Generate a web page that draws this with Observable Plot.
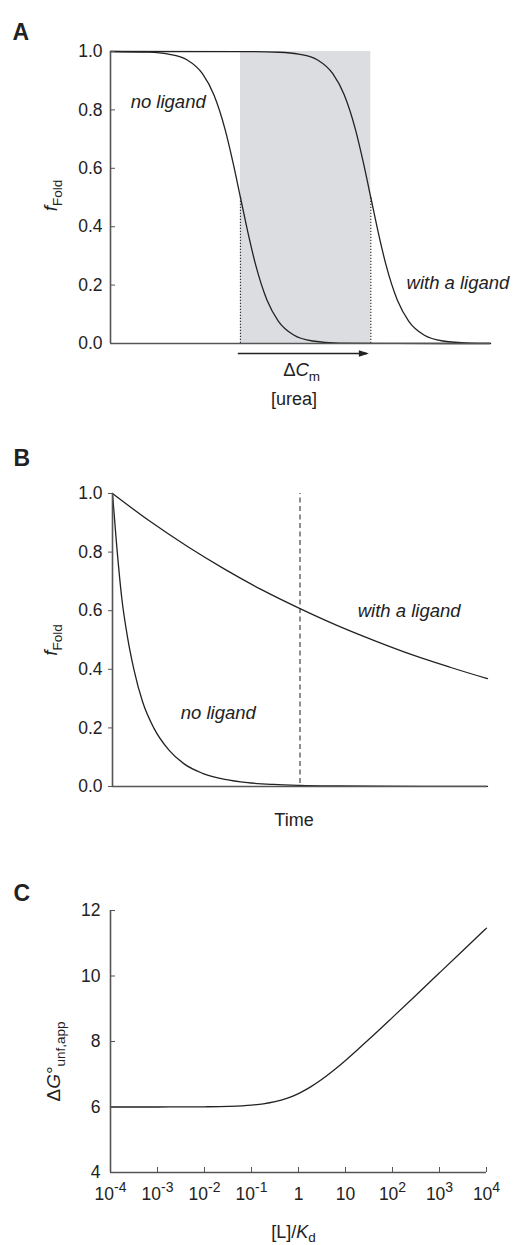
<!DOCTYPE html>
<html>
<head>
<meta charset="utf-8">
<script src="https://cdn.jsdelivr.net/npm/d3@7"></script>
<script src="https://cdn.jsdelivr.net/npm/@observablehq/plot@0.6"></script>
<style>
  html, body { margin: 0; padding: 0; background: #fff; }
  #chart { width: 515px; }
  #chart svg { display: block; }
</style>
</head>
<body>
<div id="chart"></div>
<script>
// ---------- Panel A: equilibrium denaturation ----------
const ureaNo   = [0, 1.0, 1.52, 2.02, 2.42, 2.72, 3.02, 3.22, 3.42, 3.62, 3.82, 4.12, 4.42, 4.82, 5.32, 6.02, 7.5, 10];
const foldNo   = [1.0, 0.9976, 0.991, 0.971, 0.924, 0.852, 0.731, 0.622, 0.5, 0.378, 0.269, 0.148, 0.076, 0.029, 0.0086, 0.0015, 0.0001, 0];
const ureaLig  = [0, 3.45, 4.45, 4.95, 5.45, 5.85, 6.15, 6.45, 6.65, 6.85, 7.05, 7.25, 7.55, 7.85, 8.25, 8.75, 9.45, 10];
const foldLig  = [1.0, 0.9998, 0.9975, 0.991, 0.971, 0.924, 0.852, 0.731, 0.622, 0.5, 0.378, 0.269, 0.148, 0.076, 0.029, 0.0086, 0.0015, 0.0004];
const cmValues = [3.42, 6.85];           // midpoints without / with ligand
const fTicks   = [0, 0.2, 0.4, 0.6, 0.8, 1.0];

// ---------- Panel B: kinetics ----------
const timeNo   = [0, 0.1, 0.25, 0.4, 0.57, 0.8, 1.1, 1.5, 1.9, 2.4, 3.0, 3.6, 4.3, 5.0, 6, 7, 8.5, 10];
const kinNo    = [1.0, 0.84, 0.64, 0.51, 0.40, 0.29, 0.20, 0.125, 0.078, 0.045, 0.024, 0.013, 0.007, 0.004, 0.002, 0.001, 0.0004, 0.0002];
const timeLig  = [0, 1, 2, 3, 4, 5, 6, 7, 8, 9, 10];
const kinLig   = [1.0, 0.905, 0.819, 0.741, 0.670, 0.607, 0.549, 0.497, 0.449, 0.407, 0.368];
const timeMark = [5];

// ---------- Panel C: apparent stability vs ligand ----------
const ligRatio = [1e-4, 3.16e-4, 1e-3, 3.16e-3, 1e-2, 3.16e-2, 0.1, 0.178, 0.316, 0.562, 1, 1.778, 3.16, 5.62, 10, 17.8, 31.6, 100, 316, 1000, 3162, 10000];
const dGapp    = [6.0001, 6.0002, 6.0006, 6.0019, 6.0059, 6.0185, 6.0565, 6.097, 6.163, 6.264, 6.411, 6.606, 6.845, 7.121, 7.422, 7.740, 8.066, 8.737, 9.415, 10.097, 10.779, 11.462];
const dGTicks  = [4, 6, 8, 10, 12];
const decades  = [1e-4, 1e-3, 1e-2, 1e-1, 1, 10, 100, 1000, 10000];

// ---------- rich text (subscripts / italics) ----------
const rich = {
  "f_Fold": [["f", {italic: true}], ["Fold", {sub: true}]],
  "dC_m": [["Δ", {}], ["C", {italic: true}], ["m", {sub: true}]],
  "L_Kd": [["[L]/", {}], ["K", {italic: true}], ["d", {sub: true, shift: 4}]],
  "dG_unf": [["Δ", {}], ["G", {italic: true}], ["°", {}], ["unf,app", {sub: true}]]
};
function richSpec(s) {
  if (rich[s]) return rich[s];
  const m = /^10\^(-?\d+)$/.exec(s);
  if (m) return [["10", {}], [m[1], {sup: true, size: "14px"}]];
  return null;
}
function applyRich(svg) {
  const NS = "http://www.w3.org/2000/svg";
  svg.querySelectorAll("text").forEach(t => {
    const spec = richSpec(t.textContent);
    if (!spec) return;
    t.textContent = "";
    let shift = 0;
    for (const [s, o] of spec) {
      const ts = document.createElementNS(NS, "tspan");
      ts.textContent = s;
      if (o.italic) ts.setAttribute("font-style", "italic");
      const target = o.sub ? (o.shift || 5) : o.sup ? -7.5 : 0;
      if (target !== shift) { ts.setAttribute("dy", target - shift); shift = target; }
      if (o.sub || o.sup) ts.setAttribute("font-size", o.size || "13.5px");
      t.appendChild(ts);
    }
  });
  return svg;
}

const FONT = "'Liberation Sans', Arial, Helvetica, sans-serif";
const INK = "#222";
const AXIS = "#555";
const TICK = 17.5;
const LAB = 18.5;
const style = {fontFamily: FONT, fontSize: "17px", color: INK, background: "#fff"};

const rowsA0 = ureaNo.map((u, i) => ({u, f: foldNo[i]}));
const rowsA1 = ureaLig.map((u, i) => ({u, f: foldLig[i]}));
const rowsB0 = timeNo.map((t, i) => ({t, f: kinNo[i]}));
const rowsB1 = timeLig.map((t, i) => ({t, f: kinLig[i]}));
const rowsC  = ligRatio.map((l, i) => ({l, g: dGapp[i]}));

const arrowHead = {draw(ctx) { ctx.moveTo(0, 0); ctx.lineTo(-10, -3.2); ctx.lineTo(-10, 3.2); ctx.closePath(); }};

// ---------- Panel A ----------
const plotA = Plot.plot({
  width: 515, height: 410,
  marginLeft: 110, marginRight: 25, marginTop: 51, marginBottom: 67,
  style,
  x: {domain: [0, 10], axis: null},
  y: {domain: [0, 1], axis: null},
  marks: [
    Plot.rect([{x1: cmValues[0], x2: cmValues[1]}], {x1: "x1", x2: "x2", y1: 0, y2: 1, fill: "#dcdde0"}),
    Plot.ruleX(cmValues, {y1: 0, y2: 0.5, stroke: "#333", strokeWidth: 1.2, strokeDasharray: "1.3,1.7"}),
    Plot.line(rowsA0, {x: "u", y: "f", curve: "monotone-x", stroke: INK, strokeWidth: 1.3}),
    Plot.line(rowsA1, {x: "u", y: "f", curve: "monotone-x", stroke: INK, strokeWidth: 1.3}),
    Plot.ruleY([0], {stroke: AXIS, strokeWidth: 1.6}),
    Plot.ruleX([0], {y1: 0, y2: 1, stroke: AXIS, strokeWidth: 1.6}),
    Plot.axisY(fTicks, {tickSize: -5, tickPadding: 13, tickFormat: d3.format(".1f"), fontSize: TICK, stroke: AXIS, label: null}),
    Plot.link([{a: cmValues[0] - 0.07, b: cmValues[1] - 0.1}], {x1: "a", x2: "b", y1: -0.034, y2: -0.034, stroke: INK, strokeWidth: 1.4}),
    Plot.dot([{x: cmValues[1] - 0.05}], {x: "x", y: -0.034, symbol: arrowHead, fill: INK, stroke: "none"}),
    Plot.text(["dC_m"], {x: 5.03, y: -0.1096, lineAnchor: "bottom", textAnchor: "middle", fontSize: LAB}),
    Plot.text(["[urea]"], {x: 4.83, y: -0.212, lineAnchor: "bottom", textAnchor: "middle", fontSize: 18}),
    Plot.text(["no ligand"], {x: 0.53, y: 0.805, lineAnchor: "bottom", textAnchor: "start", fontStyle: "italic", fontSize: LAB}),
    Plot.text(["with a ligand"], {x: 7.79, y: 0.188, lineAnchor: "bottom", textAnchor: "start", fontStyle: "italic", fontSize: LAB}),
    Plot.text(["f_Fold"], {frameAnchor: "left", dx: -60, dy: -2, rotate: -90, lineAnchor: "middle", textAnchor: "middle", fontSize: 19}),
    Plot.text(["A"], {frameAnchor: "top-left", dx: -98, dy: -12, lineAnchor: "bottom", textAnchor: "start", fontWeight: "bold", fontSize: 23})
  ]
});

// ---------- Panel B ----------
const plotB = Plot.plot({
  width: 515, height: 420,
  marginLeft: 112, marginRight: 28, marginTop: 83, marginBottom: 44,
  style,
  x: {domain: [0, 10], axis: null},
  y: {domain: [0, 1], axis: null},
  marks: [
    Plot.ruleX(timeMark, {y1: 0.01, y2: 1, stroke: "#444", strokeWidth: 1.2, strokeDasharray: "5,3.5"}),
    Plot.line(rowsB0, {x: "t", y: "f", curve: "monotone-x", stroke: INK, strokeWidth: 1.3}),
    Plot.line(rowsB1, {x: "t", y: "f", curve: "monotone-x", stroke: INK, strokeWidth: 1.3}),
    Plot.ruleY([0], {stroke: AXIS, strokeWidth: 1.6}),
    Plot.ruleX([0], {y1: 0, y2: 1, stroke: AXIS, strokeWidth: 1.6}),
    Plot.axisY(fTicks, {tickSize: 4, tickPadding: 6, tickFormat: d3.format(".1f"), fontSize: TICK, stroke: AXIS, label: null}),
    Plot.text(["with a ligand"], {x: 6.54, y: 0.577, lineAnchor: "bottom", textAnchor: "start", fontStyle: "italic", fontSize: LAB}),
    Plot.text(["no ligand"], {x: 1.82, y: 0.231, lineAnchor: "bottom", textAnchor: "start", fontStyle: "italic", fontSize: LAB}),
    Plot.text(["Time"], {frameAnchor: "bottom", dx: -6, dy: 39, lineAnchor: "bottom", textAnchor: "middle", fontSize: 18}),
    Plot.text(["f_Fold"], {frameAnchor: "left", dx: -62, dy: 0, rotate: -90, lineAnchor: "middle", textAnchor: "middle", fontSize: 19}),
    Plot.text(["B"], {frameAnchor: "top-left", dx: -99, dy: -28, lineAnchor: "bottom", textAnchor: "start", fontWeight: "bold", fontSize: 23})
  ]
});

// ---------- Panel C ----------
const decFmt = d => {
  const e = Math.round(Math.log10(d));
  return e === 0 ? "1" : e === 1 ? "10" : "10^" + e;
};
const plotC = Plot.plot({
  width: 515, height: 415,
  marginLeft: 110, marginRight: 29, marginTop: 80, marginBottom: 73,
  style,
  x: {type: "log", domain: [1e-4, 1e4], axis: null},
  y: {domain: [4, 12], axis: null},
  marks: [
    Plot.line(rowsC, {x: "l", y: "g", curve: "monotone-x", stroke: INK, strokeWidth: 1.3}),
    Plot.ruleY([4], {stroke: AXIS, strokeWidth: 1.6}),
    Plot.ruleX([1e-4], {y1: 4, y2: 12, stroke: AXIS, strokeWidth: 1.6}),
    Plot.axisY(dGTicks, {tickSize: -5, tickPadding: 15, fontSize: TICK, stroke: AXIS, label: null}),
    Plot.axisX(decades, {tickSize: -5, tickPadding: 20, tickFormat: decFmt, fontSize: TICK, stroke: AXIS, label: null}),
    Plot.text(["L_Kd"], {frameAnchor: "bottom", dx: -5, dy: 65, lineAnchor: "bottom", textAnchor: "middle", fontSize: 18}),
    Plot.text(["dG_unf"], {frameAnchor: "left", dx: -57, dy: 20, rotate: -90, lineAnchor: "middle", textAnchor: "middle", fontSize: 19}),
    Plot.text(["C"], {frameAnchor: "top-left", dx: -97, dy: -10, lineAnchor: "bottom", textAnchor: "start", fontWeight: "bold", fontSize: 23})
  ]
});

const root = document.getElementById("chart");
[plotA, plotB, plotC].forEach(p => root.appendChild(applyRich(p)));
</script>
</body>
</html>
